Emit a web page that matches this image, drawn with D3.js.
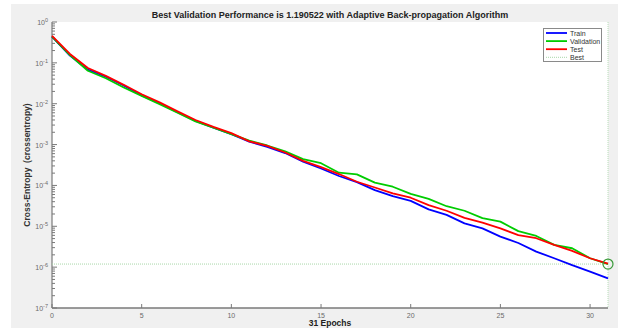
<!DOCTYPE html>
<html>
<head>
<meta charset="utf-8">
<script src="https://cdn.jsdelivr.net/npm/d3@7.9.0/dist/d3.min.js"></script>
<style>
  html, body { margin: 0; padding: 0; background: #fff; }
  svg { display: block; font-family: "Liberation Sans", Arial, sans-serif; }
</style>
</head>
<body>
<svg id="chart" width="618" height="328"></svg>
<script>
// Data
const epochs = d3.range(0, 32);
const train = [0.44, 0.15, 0.068, 0.046, 0.028, 0.016, 0.0102, 0.0062, 0.0038, 0.0026, 0.0018, 0.00118, 0.00088, 0.00062, 0.00038, 0.00026, 0.00017, 0.00012, 7.7e-5, 5.5e-5, 4.2e-5, 2.6e-5, 1.9e-5, 1.18e-5, 8.9e-6, 5.6e-6, 3.9e-6, 2.4e-6, 1.65e-6, 1.12e-6, 7.8e-7, 5.3e-7];
const validation = [0.44, 0.155, 0.064, 0.042, 0.025, 0.0155, 0.0098, 0.006, 0.0037, 0.0026, 0.0018, 0.00125, 0.00095, 0.00068, 0.00044, 0.00035, 0.000205, 0.000187, 0.000117, 9.3e-5, 6.2e-5, 4.7e-5, 3.1e-5, 2.4e-5, 1.58e-5, 1.3e-5, 7.6e-6, 5.8e-6, 3.5e-6, 2.9e-6, 1.65e-6, 1.19e-6];
const test = [0.46, 0.165, 0.075, 0.048, 0.029, 0.017, 0.0108, 0.0065, 0.004, 0.0027, 0.0019, 0.0012, 0.00093, 0.00064, 0.0004, 0.00028, 0.00019, 0.000123, 8.9e-5, 6.4e-5, 5e-5, 3.3e-5, 2.4e-5, 1.6e-5, 1.23e-5, 8.9e-6, 6.1e-6, 5.1e-6, 3.5e-6, 2.5e-6, 1.65e-6, 1.22e-6];
const bestEpoch = 31;
const bestValue = 1.190522e-6;
const xTicks = [0, 5, 10, 15, 20, 25, 30];
const yExponents = [0, -1, -2, -3, -4, -5, -6, -7];

const series = [
  { name: 'Train', values: train, color: '#0000ff' },
  { name: 'Validation', values: validation, color: '#00cc00' },
  { name: 'Test', values: test, color: '#ff0000' }
];

const svg = d3.select('#chart');

// Figure background (grey panel)
svg.append('rect').attr('x', 11).attr('y', 4).attr('width', 607).attr('height', 324).attr('fill', '#f0f0f0');

const plot = { left: 52, right: 608, top: 22, bottom: 308 };

const x = d3.scaleLinear().domain([0, 31]).range([plot.left, plot.right]);
const y = d3.scaleLog().domain([1e-7, 1]).range([plot.bottom, plot.top]);

// Plot area
svg.append('rect')
  .attr('x', plot.left).attr('y', plot.top)
  .attr('width', plot.right - plot.left).attr('height', plot.bottom - plot.top)
  .attr('fill', '#fff');

// Y axis: minor and major ticks
const axisColor = '#7a7a7a';
const yMinor = [];
for (let e = -7; e < 0; e++) {
  for (let m = 2; m <= 9; m++) yMinor.push(m * Math.pow(10, e));
}
svg.append('g').selectAll('line').data(yMinor).join('line')
  .attr('x1', plot.left).attr('x2', plot.left + 3)
  .attr('y1', (d) => y(d)).attr('y2', (d) => y(d))
  .attr('stroke', axisColor).attr('stroke-width', 1);

svg.append('g').selectAll('line').data(yExponents).join('line')
  .attr('x1', plot.left).attr('x2', plot.left + 5)
  .attr('y1', (d) => y(Math.pow(10, d))).attr('y2', (d) => y(Math.pow(10, d)))
  .attr('stroke', axisColor).attr('stroke-width', 1);

const yLabels = svg.append('g').selectAll('text').data(yExponents).join('text')
  .attr('x', plot.left - 4)
  .attr('y', (d) => y(Math.pow(10, d)) + 3)
  .attr('text-anchor', 'end')
  .attr('fill', '#6a6a6a')
  .attr('font-size', 7);
yLabels.append('tspan').text('10');
yLabels.append('tspan').attr('dy', -3).attr('font-size', 5.5).text((d) => d);

// X axis ticks (pointing up)
svg.append('g').selectAll('line').data(xTicks).join('line')
  .attr('x1', (d) => x(d)).attr('x2', (d) => x(d))
  .attr('y1', plot.bottom).attr('y2', plot.bottom - 4)
  .attr('stroke', axisColor).attr('stroke-width', 1);

svg.append('g').selectAll('text').data(xTicks).join('text')
  .attr('x', (d) => x(d))
  .attr('y', 318)
  .attr('text-anchor', 'middle')
  .attr('fill', '#6a6a6a')
  .attr('font-size', 7)
  .text((d) => d);

// Axis lines
svg.append('line')
  .attr('x1', plot.left).attr('x2', plot.left)
  .attr('y1', plot.top).attr('y2', plot.bottom)
  .attr('stroke', axisColor).attr('stroke-width', 1.2);
svg.append('line')
  .attr('x1', plot.left).attr('x2', plot.right)
  .attr('y1', plot.bottom).attr('y2', plot.bottom)
  .attr('stroke', axisColor).attr('stroke-width', 1.5);

// Best markers (dotted)
svg.append('line')
  .attr('x1', plot.left).attr('x2', plot.right)
  .attr('y1', y(bestValue)).attr('y2', y(bestValue))
  .attr('stroke', '#a8d8a8').attr('stroke-width', 1).attr('stroke-dasharray', '1,1');
svg.append('line')
  .attr('x1', x(bestEpoch)).attr('x2', x(bestEpoch))
  .attr('y1', plot.top).attr('y2', plot.bottom)
  .attr('stroke', '#b8deb8').attr('stroke-width', 1).attr('stroke-dasharray', '1,1');

// Series lines
const line = d3.line()
  .x((d, i) => x(epochs[i]))
  .y((d) => y(d));

series.forEach((s) => {
  svg.append('path')
    .attr('d', line(s.values))
    .attr('fill', 'none')
    .attr('stroke', s.color)
    .attr('stroke-width', 1.8)
    .attr('stroke-linejoin', 'round');
});

// Best circle
svg.append('circle')
  .attr('cx', x(bestEpoch)).attr('cy', y(bestValue)).attr('r', 5)
  .attr('fill', 'none').attr('stroke', '#3a9a3a').attr('stroke-width', 1.2);

// Title and labels
svg.append('text')
  .attr('x', 330).attr('y', 18)
  .attr('text-anchor', 'middle')
  .attr('font-weight', 'bold').attr('font-size', 9)
  .attr('fill', '#222')
  .text('Best Validation Performance is 1.190522 with Adaptive Back-propagation Algorithm');

svg.append('text')
  .attr('x', 330).attr('y', 326)
  .attr('text-anchor', 'middle')
  .attr('font-weight', 'bold').attr('font-size', 8.5)
  .attr('fill', '#222')
  .text('31 Epochs');

svg.append('text')
  .attr('transform', 'translate(30,165) rotate(-90)')
  .attr('text-anchor', 'middle')
  .attr('font-weight', 'bold').attr('font-size', 8.5)
  .attr('fill', '#333')
  .style('white-space', 'pre')
  .text('Cross-Entropy  (crossentropy)');

// Legend
const legendItems = series.concat([{ name: 'Best', color: '#a8d8a8', dotted: true }]);
const legend = svg.append('g');
legend.append('rect')
  .attr('x', 543.5).attr('y', 28.5).attr('width', 58).attr('height', 33)
  .attr('fill', '#fff').attr('stroke', '#8a8a8a').attr('stroke-width', 1);
legendItems.forEach((d, i) => {
  const ly = 33 + i * 8.1;
  legend.append('line')
    .attr('x1', 546).attr('x2', 567).attr('y1', ly).attr('y2', ly)
    .attr('stroke', d.color)
    .attr('stroke-width', d.dotted ? 1 : 1.8)
    .attr('stroke-dasharray', d.dotted ? '1,1' : null);
  legend.append('text')
    .attr('x', 570).attr('y', ly + 2.5)
    .attr('font-size', 7).attr('fill', '#333')
    .text(d.name);
});
</script>
</body>
</html>
